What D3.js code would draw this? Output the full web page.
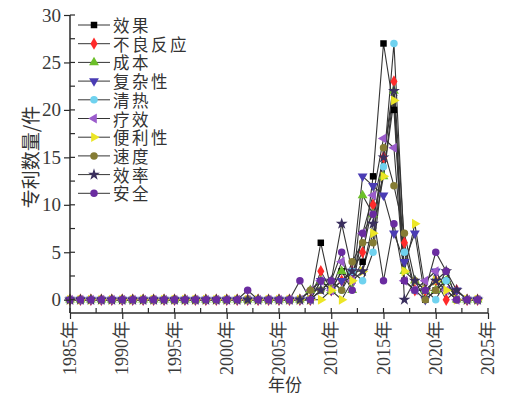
<!DOCTYPE html>
<html><head><meta charset="utf-8">
<script src="https://cdn.jsdelivr.net/npm/d3@7"></script>
<style>
html,body{margin:0;padding:0;background:#fff;}
svg{display:block;}
</style></head>
<body>
<svg id="chart" width="506" height="397"></svg>
<script>
// ---------- data ----------
const years = d3.range(1985, 2025);
const seriesNames = ["效果","不良反应","成本","复杂性","清热","疗效","便利性","速度","效率","安全"];
const yTicks = [0,5,10,15,20,25,30];
const xTicks = [1985,1990,1995,2000,2005,2010,2015,2020,2025];
const xTickLabels = ["1985年","1990年","1995年","2000年","2005年","2010年","2015年","2020年","2025年"];
const xTitle = "年份";
const yTitle = "专利数量/件";

// non-zero values by year (all other years are 0)
const s效果   = {2009:6,2010:1,2011:3,2012:2,2013:4,2014:13,2015:27,2016:20,2017:2,2018:1,2020:1,2021:2};
const s不良反应 = {2009:3,2010:1,2011:2,2012:3,2013:5,2014:10,2015:15,2016:23,2017:6,2018:1,2019:1,2020:2,2022:1};
const s成本   = {2008:1,2009:2,2010:1,2011:3,2012:1,2013:11,2014:9,2015:13,2016:22,2017:3,2018:2,2019:1,2020:1,2021:2};
const s复杂性 = {2009:2,2010:1,2011:2,2012:3,2013:13,2014:12,2015:11,2016:7,2017:4,2018:7,2020:3,2021:1,2022:1};
const s清热   = {2009:1,2010:2,2011:1,2012:3,2013:2,2014:5,2015:14,2016:27,2017:5,2018:1,2019:1,2021:2};
const s疗效   = {2008:1,2009:2,2010:1,2011:4,2012:2,2013:7,2014:11,2015:17,2016:16,2017:2,2018:1,2019:2,2020:3,2021:1};
const s便利性 = {2010:1,2012:2,2013:3,2014:7,2015:13,2016:21,2017:3,2018:8,2019:1,2020:2,2021:1};
const s速度   = {2008:1,2009:1,2010:2,2011:1,2012:4,2013:6,2014:6,2015:16,2016:12,2017:7,2018:2,2020:1,2021:3};
const s效率   = {2009:1,2010:2,2011:8,2012:3,2013:3,2014:8,2015:15,2016:22,2018:2,2019:1,2020:2,2021:3,2022:1};
const s安全   = {2002:1,2007:2,2009:2,2010:2,2011:5,2012:1,2013:7,2014:9,2015:2,2016:8,2017:2,2018:1,2019:1,2020:5,2021:3};
const seriesSparse = [s效果,s不良反应,s成本,s复杂性,s清热,s疗效,s便利性,s速度,s效率,s安全];

// ---------- styles ----------
const colors = ["#000000","#ff2a2a","#6cbf2a","#4a3cb4","#6fd2ef","#9b5ccc","#ece626","#857c34","#3a2f5e","#6a2ca0"];
const symbols = [
  {t:d3.symbolSquare, r:0, s:42},
  {t:d3.symbolDiamond, r:0, s:44},
  {t:d3.symbolTriangle, r:0, s:42},
  {t:d3.symbolTriangle, r:180, s:42},
  {t:d3.symbolCircle, r:0, s:44},
  {t:d3.symbolTriangle, r:-90, s:42},
  {t:d3.symbolTriangle, r:90, s:42},
  {t:d3.symbolCircle, r:0, s:44},
  {t:d3.symbolStar, r:0, s:44},
  {t:d3.symbolCircle, r:0, s:44}
];

const svg = d3.select("#chart");
const x = d3.scaleLinear().domain([1985,2025]).range([70,488]);
const y = d3.scaleLinear().domain([-1.4,30]).range([313,15]);

const series = seriesSparse.map((s,i)=>({
  name: seriesNames[i],
  values: years.map(yr=>({year:yr, v: s[yr]||0}))
}));

// lines and markers
const line = d3.line().x(d=>x(d.year)).y(d=>y(d.v));
const g = svg.append("g");
series.forEach((s,i)=>{
  g.append("path").attr("d", line(s.values))
    .attr("fill","none").attr("stroke","#353535").attr("stroke-width",1.1);
});
series.forEach((s,i)=>{
  const sym = d3.symbol().type(symbols[i].t).size(symbols[i].s);
  g.selectAll(null).data(s.values).enter().append("path")
    .attr("d", sym)
    .attr("transform", d=>`translate(${x(d.year)},${y(d.v)}) rotate(${symbols[i].r})`)
    .attr("fill", colors[i]);
});

// axes
const axColor = "#2a2a2a";
const fontNum = "'Liberation Serif','Times New Roman','Noto Sans CJK SC',serif";
const ax = svg.append("g");
ax.append("line").attr("x1",70).attr("x2",70).attr("y1",15).attr("y2",313).attr("stroke",axColor).attr("stroke-width",1.5);
ax.append("line").attr("x1",70).attr("x2",488).attr("y1",313).attr("y2",313).attr("stroke",axColor).attr("stroke-width",1.5);

const yAxis = d3.axisLeft(y).tickValues(yTicks).tickSize(6).tickPadding(3).tickFormat(d3.format("d"));
const yg = ax.append("g").attr("transform","translate(70,0)").call(yAxis);
yg.select(".domain").remove();
yg.selectAll("text").attr("font-family",fontNum).attr("font-size",19).attr("fill","#3a3a3a");
yg.selectAll("line").attr("stroke",axColor).attr("stroke-width",1.2);
ax.selectAll(null).data(d3.range(0,30.1,2.5)).enter().append("line")
  .attr("x1",70).attr("x2",75).attr("y1",d=>y(d)).attr("y2",d=>y(d))
  .attr("stroke",axColor).attr("stroke-width",1.2);

const xAxis = d3.axisBottom(x).tickValues(xTicks).tickSize(6).tickFormat("");
const xg = ax.append("g").attr("transform","translate(0,313)").call(xAxis);
xg.select(".domain").remove();
xg.selectAll("text").remove();
xg.selectAll("line").attr("stroke",axColor).attr("stroke-width",1.2);
ax.selectAll(null).data(d3.range(1985,2025.1,2.5)).enter().append("line")
  .attr("x1",d=>x(d)).attr("x2",d=>x(d)).attr("y1",313).attr("y2",308)
  .attr("stroke",axColor).attr("stroke-width",1.2);

// x tick labels (rotated)
ax.selectAll(null).data(xTicks).enter().append("text")
  .attr("x",0).attr("y",0)
  .attr("transform",d=>`translate(${x(d)},321) rotate(-90)`)
  .attr("text-anchor","end").attr("dominant-baseline","central")
  .attr("font-family",fontNum).attr("font-size",18).attr("fill","#3a3a3a")
  .text((d,i)=>xTickLabels[i]);

// titles
svg.append("text").attr("x",285).attr("y",383).attr("text-anchor","middle")
  .attr("dominant-baseline","central")
  .attr("font-family","'Noto Sans CJK SC',sans-serif").attr("font-size",17).attr("fill","#333").text(xTitle);
svg.append("text").attr("transform","translate(29,157) rotate(-90)").attr("text-anchor","middle")
  .attr("dominant-baseline","central")
  .attr("font-family","'Noto Sans CJK SC',sans-serif").attr("font-size",19).attr("fill","#333").text(yTitle);

// legend
const lg = svg.append("g");
series.forEach((s,i)=>{
  const yy = 25 + i*18.7;
  lg.append("line").attr("x1",78).attr("x2",110).attr("y1",yy).attr("y2",yy).attr("stroke","#353535").attr("stroke-width",1);
  lg.append("path").attr("d", d3.symbol().type(symbols[i].t).size(symbols[i].s)())
    .attr("transform",`translate(94,${yy}) rotate(${symbols[i].r})`).attr("fill",colors[i]);
  lg.append("text").attr("x",113).attr("y",yy).attr("dominant-baseline","central")
    .attr("font-family","'Noto Sans CJK SC',sans-serif").attr("font-size",16.5).attr("letter-spacing",2.5).attr("fill","#333")
    .text(s.name);
});
</script>
</body></html>
